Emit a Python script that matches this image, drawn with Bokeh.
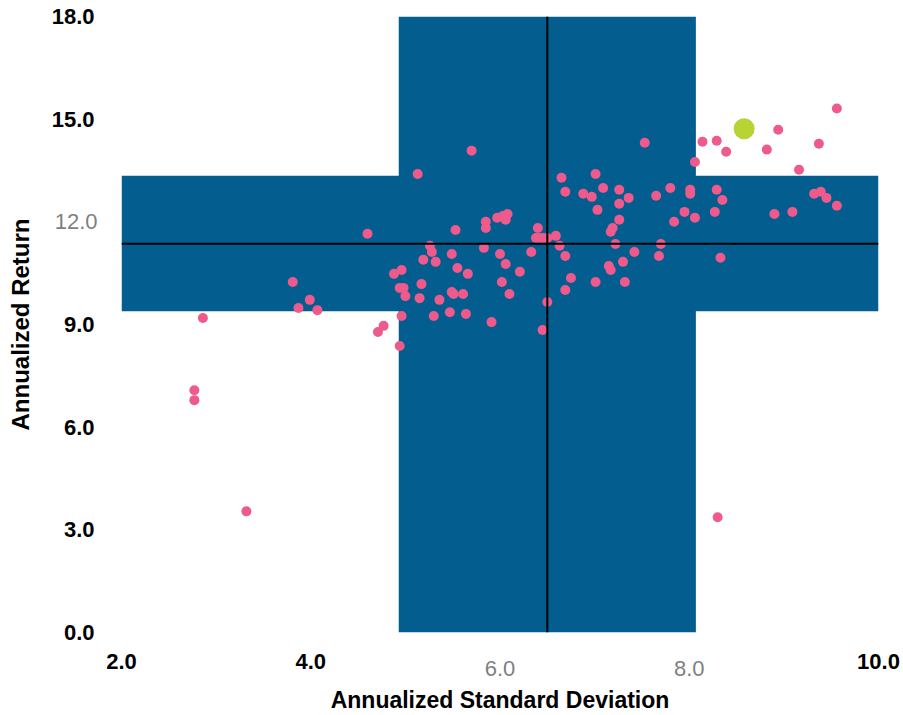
from bokeh.plotting import figure
from bokeh.models import Range1d, Span, FixedTicker, LinearAxis
from bokeh.embed import file_html
from bokeh.resources import INLINE

# ---- data ----
std_dev = [2.86, 2.77, 2.77, 3.32, 3.81, 3.87, 3.99, 4.07, 4.60, 4.77, 4.71, 4.94, 4.96, 4.88, 4.96, 4.94, 4.98, 5.00,
           5.70, 5.13, 6.65, 7.01, 7.53, 6.69, 6.88, 6.97, 7.09, 7.26, 7.36, 7.26, 7.03, 7.65, 7.80, 8.01, 8.01, 7.95,
           7.84, 8.06, 8.06, 7.26, 7.19, 7.17, 7.22, 7.42, 7.70, 7.68, 7.30, 7.15, 7.17, 7.01, 7.32, 6.75, 6.69, 6.69,
           6.63, 6.59, 6.40, 6.38, 6.42, 6.46, 6.50, 6.50, 6.45, 6.33, 6.21, 6.10, 6.02, 6.06, 6.00, 5.91, 5.83, 5.85,
           5.85, 5.97, 6.03, 6.08, 6.06, 5.53, 5.26, 5.28, 5.49, 5.19, 5.32, 5.55, 5.66, 5.17, 5.49, 5.51, 5.61, 5.15,
           5.36, 5.30, 5.47, 5.64, 8.14, 8.29, 8.39, 8.82, 8.94, 9.37, 9.56, 9.16, 8.29, 8.35, 8.27, 8.90, 9.09, 9.32,
           9.39, 9.45, 9.56, 8.33, 8.30]
ann_return = [9.19, 7.08, 6.79, 3.54, 10.24, 9.48, 9.72, 9.42, 11.65, 8.96, 8.78, 8.37, 9.25, 10.48, 10.59, 10.07, 10.07, 9.83,
              14.08, 13.40, 13.29, 13.40, 14.31, 12.88, 12.82, 12.73, 12.99, 12.94, 12.70, 12.53, 12.35, 12.76, 12.99, 12.94, 12.82, 12.29,
              12.00, 12.12, 13.75, 12.06, 11.82, 11.71, 11.35, 11.12, 11.35, 11.00, 10.83, 10.71, 10.59, 10.24, 10.24, 10.36, 10.01, 11.00,
              11.30, 11.59, 11.82, 11.53, 11.53, 11.53, 11.53, 9.66, 8.84, 11.12, 10.54, 9.89, 10.24, 10.77, 11.06, 9.07, 11.24, 12.00,
              11.82, 12.12, 12.17, 12.23, 12.06, 11.76, 11.30, 11.12, 11.06, 10.89, 10.83, 10.65, 10.48, 10.18, 9.95, 9.89, 9.89, 9.77,
              9.72, 9.25, 9.36, 9.31, 14.34, 14.37, 14.05, 14.11, 14.69, 14.28, 15.31, 13.52, 12.94, 12.64, 12.29, 12.23, 12.29, 12.82,
              12.88, 12.70, 12.47, 10.95, 3.37]
highlight_x = [8.58]
highlight_y = [14.72]

band_std = (4.93, 8.07)       # vertical band
band_ret = (9.39, 13.35)      # horizontal band
center_std = 6.5
center_ret = 11.36

x_ticks_bold = [2, 4, 10]
x_ticks_gray = [6, 8]
y_ticks_bold = [0, 3, 6, 9, 15, 18]
y_ticks_gray = [12]

x_min, x_max = 2, 10
y_min, y_max = 0, 18

BLUE = "#035e8f"
PINK = "#ee5a8b"
GREEN = "#b6d433"
GRAY = "#7f7f7f"
FONT = "Liberation Sans"
TICK_SIZE = "22px"

p = figure(width=903, height=715, output_backend="svg", toolbar_location=None,
           x_range=Range1d(x_min, x_max), y_range=Range1d(y_min, y_max),
           x_axis_location=None, y_axis_location=None,
           min_border_left=121, min_border_right=25, min_border_top=16, min_border_bottom=83)
p.background_fill_color = "white"
p.border_fill_color = "white"
p.outline_line_color = None
p.xgrid.visible = False
p.ygrid.visible = False

# cross bands
p.quad(left=[band_std[0]], right=[band_std[1]], bottom=[y_min], top=[y_max],
       fill_color=BLUE, line_color=None)
p.quad(left=[x_min], right=[x_max], bottom=[band_ret[0]], top=[band_ret[1]],
       fill_color=BLUE, line_color=None)

# points
p.scatter(std_dev, ann_return, size=10, fill_color=PINK, line_color=None)
p.scatter(highlight_x, highlight_y, size=21, fill_color=GREEN, line_color=None)

# crosshair
p.add_layout(Span(location=center_std, dimension="height", line_color="black", line_width=2))
p.add_layout(Span(location=center_ret, dimension="width", line_color="black", line_width=2))


def style_axis(ax, ticks, bold, standoff):
    ax.ticker = FixedTicker(ticks=ticks)
    ax.major_label_overrides = {t: f"{t:.1f}" for t in ticks}
    ax.axis_line_color = None
    ax.major_tick_line_color = None
    ax.minor_tick_line_color = None
    ax.major_tick_out = 0
    ax.major_tick_in = 0
    ax.major_label_text_font = FONT
    ax.major_label_text_font_size = TICK_SIZE
    ax.major_label_text_font_style = "bold" if bold else "normal"
    ax.major_label_text_color = "black" if bold else GRAY
    ax.major_label_standoff = standoff
    ax.axis_label_text_font = FONT
    ax.axis_label_text_font_style = "bold"
    ax.axis_label_text_color = "black"


# y axes: gray one nearest the frame, bold one pulled back over it
y_gray = LinearAxis()
style_axis(y_gray, y_ticks_gray, False, 24)
p.add_layout(y_gray, "left")
y_main = LinearAxis(axis_label="Annualized Return")
style_axis(y_main, y_ticks_bold, True, -43)
y_main.axis_label_text_font_size = "24px"
y_main.axis_label_standoff = 15
p.add_layout(y_main, "left")

# x axes
x_gray = LinearAxis()
style_axis(x_gray, x_ticks_gray, False, 28)
p.add_layout(x_gray, "below")
x_main = LinearAxis(axis_label="Annualized Standard Deviation")
style_axis(x_main, x_ticks_bold, True, -25)
x_main.axis_label_text_font_size = "23px"
x_main.axis_label_standoff = 15
p.add_layout(x_main, "below")

open("out.html", "w").write(file_html(p, INLINE))
